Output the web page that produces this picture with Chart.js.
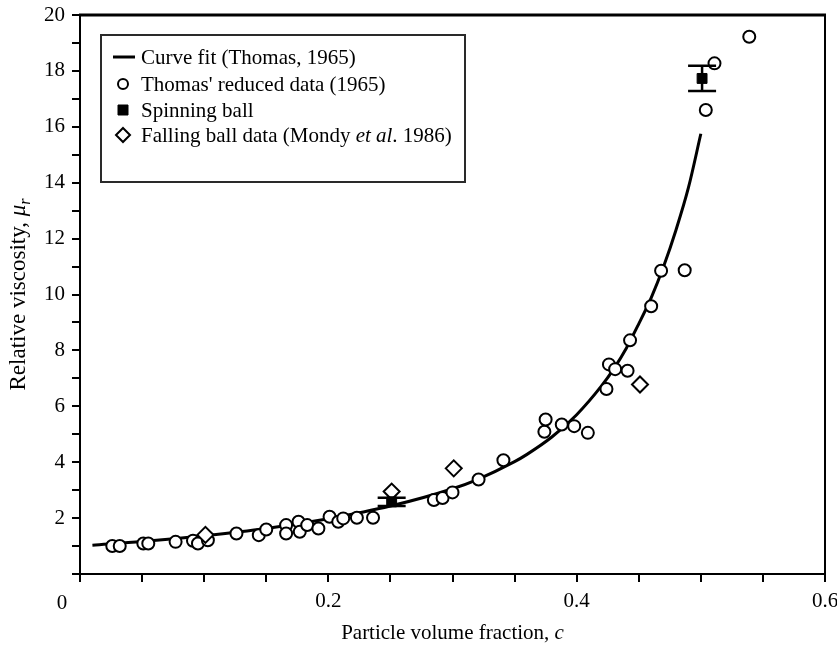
<!DOCTYPE html>
<html>
<head>
<meta charset="utf-8">
<script src="https://cdn.jsdelivr.net/npm/chart.js@4.4.1/dist/chart.umd.min.js"></script>
<style>
  html, body { margin: 0; padding: 0; background: #fff; }
  #wrap { width: 837px; height: 645px; position: relative; }
</style>
</head>
<body>
<div id="wrap"><canvas id="c" width="837" height="645"></canvas></div>
<script>
// Curve fit (Thomas, 1965): points along the fitted curve
const fitC  = [0.01, 0.05, 0.10, 0.15, 0.20, 0.25, 0.30, 0.32, 0.35, 0.36, 0.38, 0.40, 0.42, 0.43, 0.44, 0.45, 0.46, 0.47, 0.48, 0.49, 0.50];
const fitMu = [1.03, 1.16, 1.37, 1.63, 1.98, 2.43, 3.05, 3.38, 4.02, 4.28, 4.90, 5.70, 6.73, 7.35, 8.08, 8.95, 9.88, 11.00, 12.31, 13.82, 15.75];

// Thomas' reduced data (1965)
const thomasC  = [0.026, 0.032, 0.051, 0.055, 0.077, 0.091, 0.095, 0.103, 0.126, 0.144, 0.150, 0.166, 0.166, 0.176, 0.177, 0.183, 0.192, 0.201, 0.208, 0.212, 0.223, 0.236,
                  0.285, 0.292, 0.300, 0.321, 0.341, 0.374, 0.375, 0.388, 0.398, 0.409, 0.424, 0.426, 0.431, 0.441, 0.443, 0.460, 0.468, 0.487, 0.504, 0.511, 0.539];
const thomasMu = [1.00, 1.00, 1.09, 1.09, 1.15, 1.19, 1.09, 1.21, 1.45, 1.39, 1.59, 1.75, 1.45, 1.87, 1.51, 1.75, 1.63, 2.05, 1.87, 1.99, 2.01, 2.01,
                  2.65, 2.72, 2.92, 3.38, 4.07, 5.09, 5.53, 5.35, 5.29, 5.05, 6.62, 7.50, 7.33, 7.27, 8.36, 9.58, 10.85, 10.87, 16.60, 18.27, 19.22];

// Spinning ball measurements with their uncertainty
const spinC   = [0.251, 0.501];
const spinMu  = [2.58, 17.73];
const spinErr = [0.15, 0.45];

// Falling ball data (Mondy et al. 1986)
const fallC  = [0.101, 0.251, 0.301, 0.451];
const fallMu = [1.40, 2.95, 3.78, 6.78];

// Axis tick labels (the origin label sits below the corner)
const xTickLabels = [0.2, 0.4, 0.6];
const originLabel = '0';
const yTickLabels = [2, 4, 6, 8, 10, 12, 14, 16, 18, 20];

const SERIF = '"Liberation Serif", "DejaVu Serif", serif';
const FONT_SIZE = 21;
Chart.defaults.font.family = SERIF;
Chart.defaults.color = '#000';

const pts = (xs, ys) => xs.map((x, i) => ({ x: x, y: ys[i] }));

// Outer frame: heavy top rule and right edge
const framePlugin = {
  id: 'frame',
  beforeDatasetsDraw(chart) {
    const { ctx, chartArea: a } = chart;
    ctx.save();
    ctx.strokeStyle = '#000';
    ctx.lineWidth = 3;
    ctx.beginPath();
    ctx.moveTo(a.left - 1, a.top);
    ctx.lineTo(a.right + 1, a.top);
    ctx.stroke();
    ctx.lineWidth = 2;
    ctx.beginPath();
    ctx.moveTo(a.right, a.top);
    ctx.lineTo(a.right, a.bottom);
    ctx.stroke();
    ctx.restore();
  }
};

// Vertical error bars for the spinning ball dataset
const errorBarPlugin = {
  id: 'errorBars',
  afterDatasetsDraw(chart) {
    const { ctx, scales } = chart;
    const idx = chart.data.datasets.findIndex(d => d.errors);
    if (idx < 0) return;
    const ds = chart.data.datasets[idx];
    ctx.save();
    ctx.strokeStyle = '#000';
    ctx.lineWidth = 2.5;
    ds.data.forEach((p, i) => {
      const e = ds.errors[i];
      const x = scales.x.getPixelForValue(p.x);
      const yTop = scales.y.getPixelForValue(p.y + e);
      const yBot = scales.y.getPixelForValue(p.y - e);
      const half = 14;
      ctx.beginPath();
      ctx.moveTo(x, yTop); ctx.lineTo(x, yBot);
      ctx.moveTo(x - half, yTop); ctx.lineTo(x + half, yTop);
      ctx.moveTo(x - half, yBot); ctx.lineTo(x + half, yBot);
      ctx.stroke();
    });
    ctx.restore();
  }
};

// Draws a run of text pieces, each with its own style, starting at x
function drawRuns(ctx, runs, x, y, size) {
  let cx = x;
  runs.forEach(r => {
    const s = r.sub ? size * 0.7 : size;
    ctx.font = (r.italic ? 'italic ' : '') + s + 'px ' + SERIF;
    ctx.fillText(r.t, cx, y + (r.sub ? size * 0.28 : 0));
    cx += ctx.measureText(r.t).width;
  });
  return cx - x;
}
function runsWidth(ctx, runs, size) {
  let w = 0;
  runs.forEach(r => {
    const s = r.sub ? size * 0.7 : size;
    ctx.font = (r.italic ? 'italic ' : '') + s + 'px ' + SERIF;
    w += ctx.measureText(r.t).width;
  });
  return w;
}

// Axis titles with italic symbols, plus the origin label
const titlesPlugin = {
  id: 'axisTitles',
  afterDraw(chart) {
    const { ctx, chartArea: a } = chart;
    const size = FONT_SIZE;
    ctx.save();
    ctx.fillStyle = '#000';
    ctx.textBaseline = 'middle';
    ctx.textAlign = 'center';
    ctx.font = size + 'px ' + SERIF;
    ctx.fillText(originLabel, a.left - 18, a.bottom + 29);

    ctx.textAlign = 'left';
    const xRuns = [{ t: 'Particle volume fraction, ' }, { t: 'c', italic: true }];
    const xw = runsWidth(ctx, xRuns, size);
    drawRuns(ctx, xRuns, (a.left + a.right) / 2 - xw / 2, 633, size);

    const ySize = 23;
    const yRuns = [{ t: 'Relative viscosity, ' }, { t: '\u03bc', italic: true }, { t: 'r', italic: true, sub: true }];
    const yw = runsWidth(ctx, yRuns, ySize);
    ctx.translate(19, (a.top + a.bottom) / 2);
    ctx.rotate(-Math.PI / 2);
    drawRuns(ctx, yRuns, -yw / 2, 0, ySize);
    ctx.restore();
  }
};

// Boxed legend inside the plot area
const legendPlugin = {
  id: 'boxLegend',
  afterDraw(chart) {
    const { ctx } = chart;
    const size = 21;
    const box = { x: 101, y: 35, w: 364, h: 147 };
    ctx.save();
    ctx.fillStyle = '#fff';
    ctx.fillRect(box.x, box.y, box.w, box.h);
    ctx.strokeStyle = '#2a2a2a';
    ctx.lineWidth = 2;
    ctx.strokeRect(box.x, box.y, box.w, box.h);

    const ds = chart.data.datasets;
    const rows = [
      { d: ds[0], runs: [{ t: ds[0].label }] },
      { d: ds[1], runs: [{ t: ds[1].label }] },
      { d: ds[2], runs: [{ t: ds[2].label }] },
      { d: ds[3], runs: [{ t: 'Falling ball data (Mondy ' }, { t: 'et al', italic: true }, { t: '. 1986)' }] }
    ];
    const ys = [57, 84, 110, 135];
    const sx = 123, tx = 141;
    rows.forEach((r, i) => {
      const y = ys[i];
      const d = r.d;
      ctx.strokeStyle = '#000';
      ctx.fillStyle = '#000';
      if (d.showLine) {
        ctx.lineWidth = 3;
        ctx.beginPath();
        ctx.moveTo(sx - 10, y); ctx.lineTo(sx + 12, y);
        ctx.stroke();
      } else {
        ctx.fillStyle = d.pointBackgroundColor;
        ctx.strokeStyle = d.pointBorderColor;
        ctx.lineWidth = d.pointBorderWidth;
        ctx.beginPath();
        const r0 = d.legendRadius;
        if (d.pointStyle === 'circle') {
          ctx.arc(sx, y, r0, 0, Math.PI * 2);
        } else if (d.pointStyle === 'rect') {
          ctx.rect(sx - r0, y - r0, 2 * r0, 2 * r0);
        } else {
          ctx.moveTo(sx, y - r0); ctx.lineTo(sx + r0, y); ctx.lineTo(sx, y + r0); ctx.lineTo(sx - r0, y); ctx.closePath();
        }
        ctx.fill();
        ctx.stroke();
      }
      ctx.fillStyle = '#000';
      ctx.textBaseline = 'middle';
      ctx.textAlign = 'left';
      drawRuns(ctx, r.runs, tx, y + 1, size);
    });
    ctx.restore();
  }
};

new Chart(document.getElementById('c'), {
  type: 'scatter',
  data: {
    datasets: [
      {
        label: 'Curve fit (Thomas, 1965)',
        data: pts(fitC, fitMu),
        showLine: true,
        borderColor: '#000',
        borderWidth: 3,
        pointRadius: 0,
        cubicInterpolationMode: 'monotone',
        order: 4
      },
      {
        label: "Thomas' reduced data (1965)",
        data: pts(thomasC, thomasMu),
        pointStyle: 'circle',
        pointRadius: 6,
        pointBorderWidth: 2,
        pointBorderColor: '#000',
        pointBackgroundColor: '#fff',
        legendRadius: 5,
        order: 3
      },
      {
        label: 'Spinning ball',
        data: pts(spinC, spinMu),
        errors: spinErr,
        pointStyle: 'rect',
        pointRadius: 7,
        pointBorderWidth: 1,
        pointBorderColor: '#000',
        pointBackgroundColor: '#000',
        legendRadius: 5,
        order: 1
      },
      {
        label: 'Falling ball data (Mondy et al. 1986)',
        data: pts(fallC, fallMu),
        pointStyle: 'rectRot',
        pointRadius: 8,
        pointBorderWidth: 2,
        pointBorderColor: '#000',
        pointBackgroundColor: '#fff',
        legendRadius: 7,
        order: 2
      }
    ]
  },
  options: {
    responsive: false,
    animation: false,
    layout: { padding: { top: 15, right: 12, left: 0, bottom: 0 } },
    plugins: { legend: { display: false }, tooltip: { enabled: false } },
    scales: {
      x: {
        type: 'linear',
        min: 0, max: 0.6,
        afterFit(s) { s.height = 71; s.paddingLeft = 0; s.paddingRight = 0; },
        afterBuildTicks(s) {
          s.ticks = [];
          for (let k = 0; k <= 12; k++) s.ticks.push({ value: +(k * 0.05).toFixed(2) });
        },
        ticks: {
          autoSkip: false, maxRotation: 0, padding: 7,
          font: { size: FONT_SIZE, family: SERIF }, color: '#000',
          callback: v => xTickLabels.some(t => Math.abs(t - v) < 1e-6) ? String(v) : ''
        },
        grid: { drawOnChartArea: false, drawTicks: true, tickLength: 8, color: '#000', lineWidth: 2 },
        border: { display: true, color: '#000', width: 2 }
      },
      y: {
        type: 'linear',
        min: 0, max: 20,
        afterFit(s) { s.width = 80; s.paddingTop = 0; s.paddingBottom = 0; },
        afterBuildTicks(s) {
          s.ticks = [];
          for (let k = 0; k <= 20; k++) s.ticks.push({ value: k });
        },
        ticks: {
          autoSkip: false, padding: 7,
          font: { size: FONT_SIZE, family: SERIF }, color: '#000',
          callback: v => yTickLabels.includes(v) ? String(v) : ''
        },
        grid: { drawOnChartArea: false, drawTicks: true, tickLength: 8, color: '#000', lineWidth: 2 },
        border: { display: true, color: '#000', width: 2 }
      }
    }
  },
  plugins: [framePlugin, errorBarPlugin, titlesPlugin, legendPlugin]
});
</script>
</body>
</html>
